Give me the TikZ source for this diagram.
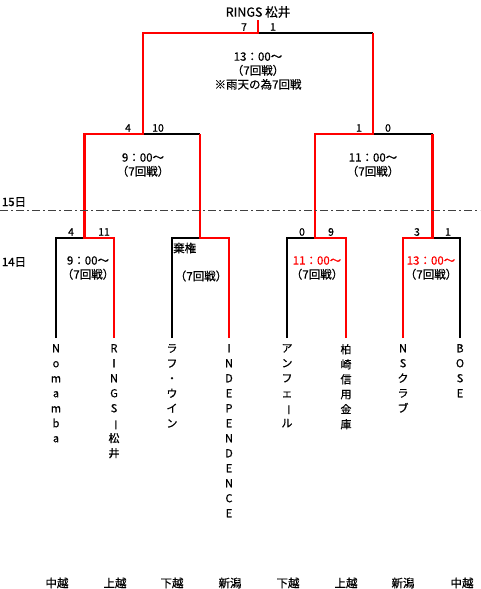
\documentclass[tikz,border=0pt]{standalone}
\usepackage{fontspec}
\setmainfont{Noto Sans CJK JP}[FakeBold=0.6]
\usetikzlibrary{positioning}
\newcommand{\chouon}{\rotatebox[origin=c]{-90}{ー}}

\begin{document}
\begin{tikzpicture}[
    x=1pt, y=-1pt,
    win/.style={draw=red, line width=2.6pt, line join=miter},
    lose/.style={draw=black, line width=1.6pt, line join=miter},
    dayline/.style={draw=black!75, line width=0.9pt, dash pattern=on 8pt off 3pt on 2pt off 3pt},
    team/.style={anchor=north, align=center, inner sep=0pt, font=\fontsize{11}{15}\selectfont},
    score/.style={inner sep=0pt, font=\fontsize{10.5}{12}\selectfont},
    info/.style={inner sep=0pt, font=\fontsize{11.5}{14}\selectfont},
    area/.style={inner sep=0pt, font=\fontsize{11.5}{13}\selectfont},
]
\useasboundingbox (0,0) rectangle (480,589);

% teams (vertical names)
\node[team] at (56,  344) (nom)   {N\\o\\m\\a\\m\\b\\a};
\node[team] at (114, 344) (rings) {R\\I\\N\\G\\S\\\chouon\\松\\井};
\node[team] at (172, 344) (laf)   {ラ\\フ\\・\\ウ\\イ\\ン};
\node[team] at (229, 344) (indep) {I\\N\\D\\E\\P\\E\\N\\D\\E\\N\\C\\E};
\node[team] at (287, 344) (anf)   {ア\\ン\\フ\\ェ\\\chouon\\ル};
\node[team] at (346, 344) (kashi) {柏\\崎\\信\\用\\金\\庫};
\node[team] at (403, 344) (ns)    {N\\S\\ク\\ラ\\ブ};
\node[team] at (460, 344) (bose)  {B\\O\\S\\E};

% bracket joints
\coordinate (m1) at (84.5, 238);
\coordinate (m2) at (200,  238);
\coordinate (m3) at (315,  238);
\coordinate (m4) at (432.5,238);
\coordinate (s1) at (143,  134);
\coordinate (s2) at (373,  134);
\coordinate (f)  at (258,  33);
\coordinate (champ) at (258, 20);

% losing sides
\draw[lose] ([yshift=6pt]nom.north)  |- (m1);
\draw[lose] ([yshift=6pt]laf.north)  |- (m2);
\draw[lose] ([yshift=6pt]anf.north)  |- (m3);
\draw[lose] ([yshift=6pt]bose.north) |- (m4);
\draw[lose] (s1) -- (m2 |- s1);
\draw[lose] (s2) -- (m4 |- s2);
\draw[lose] (f) -- (s2 |- f);

% winning sides
\draw[win] ([yshift=6pt]rings.north) |- (m1) |- (s1) |- (f) -- (champ);
\draw[win] ([yshift=6pt]indep.north) |- (m2) -- (m2 |- s1);
\draw[win] ([yshift=6pt]kashi.north) |- (m3) |- (s2) -- (s2 |- f);
\draw[win] ([yshift=6pt]ns.north)    |- (m4) -- (m4 |- s2);

% day separator
\draw[dayline] (0,210) -- (480,210);
\node[area] at (14, 202) (day15) {15日};
\node[area] at (14, 262) (day14) {14日};

% final
\node[font=\fontsize{12.5}{14}\selectfont, inner sep=0pt] at (258,12) (champion) {RINGS 松井};
\node[score] at (244,27) (fsL) {7};
\node[score] at (273,27) (fsR) {1};
\node[info, align=center] at (258,71) (finfo) {13：00～\\（7回戦）\\※雨天の為7回戦};

% semifinals
\node[score] at (128,128) (s1L) {4};
\node[score] at (158,128) (s1R) {10};
\node[score] at (359,128) (s2L) {1};
\node[score] at (388,128) (s2R) {0};
\node[info, align=center] at (143,165) (s1info) {9：00～\\（7回戦）};
\node[info, align=center] at (373,165) (s2info) {11：00～\\（7回戦）};

% first round
\foreach \x/\s [count=\i] in {71/4, 104/11, 302/0, 331/9, 417/3, 448/1}
    \node[score] at (\x,232) (r1s\i) {\s};
\node[info, align=center] at (88,268) (m1info) {9：00～\\（7回戦）};
\node[info, anchor=west] at (173,248) (m2kiken) {棄権};
\node[info] at (201,276) (m2info) {（7回戦）};
\node[info, align=center] at (317,268) (m3info) {\textcolor{red}{11：00～}\\（7回戦）};
\node[info, align=center] at (431,268) (m4info) {\textcolor{red}{13：00～}\\（7回戦）};

% areas
\foreach \x/\a [count=\i] in {57/中越, 115/上越, 172/下越, 230/新潟, 288/下越, 346/上越, 403/新潟, 462/中越}
    \node[area] at (\x,583) (area\i) {\a};

\end{tikzpicture}
\end{document}
